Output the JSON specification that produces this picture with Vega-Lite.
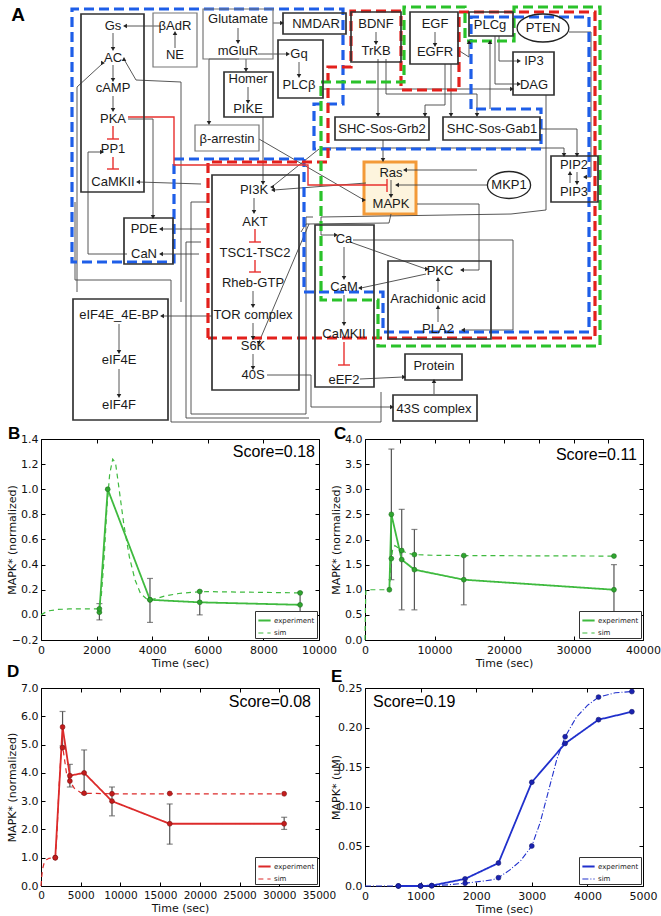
{
"$schema":"https://vega.github.io/schema/vega-lite/v6.json",
"padding":{"left":5,"top":0,"right":0,"bottom":0},
"bounds":"flush",
"spacing":12,
"config":{
 "font":"DejaVu Sans",
 "view":{"stroke":"#000","strokeWidth":1},
 "axis":{"grid":false,"domain":false,"labelOverlap":false,"labelFlush":false,"labelFont":"DejaVu Sans","labelFontSize":11,"labelColor":"#111","titleFont":"DejaVu Sans","titleFontSize":11,"titleFontWeight":"normal","titleColor":"#111","tickColor":"#000","tickSize":-4},
 "axisX":{"titlePadding":2,"labelPadding":8},
 "axisY":{"minExtent":21,"maxExtent":21,"titlePadding":3,"labelPadding":7},
 "legend":{"orient":"bottom-right","offset":2,"padding":2,"strokeColor":"#333","fillColor":"#fff","labelFont":"DejaVu Sans","labelFontSize":7,"labelColor":"#222","symbolType":"stroke","symbolSize":150,"symbolStrokeWidth":1.6,"rowPadding":1,"labelOffset":2,"title":null,"cornerRadius":0}
},
"datasets":{
 "zones":[
  {"z":"blue","o":0,"x":303,"y":157},{"z":"blue","o":1,"x":173,"y":157},{"z":"blue","o":2,"x":173,"y":260},{"z":"blue","o":3,"x":71,"y":260},{"z":"blue","o":4,"x":71,"y":7},{"z":"blue","o":5,"x":342,"y":7},{"z":"blue","o":6,"x":342,"y":102},{"z":"blue","o":7,"x":313,"y":102},{"z":"blue","o":8,"x":313,"y":147},{"z":"blue","o":9,"x":540,"y":147},{"z":"blue","o":10,"x":540,"y":107},{"z":"blue","o":11,"x":470,"y":107},{"z":"blue","o":12,"x":470,"y":15},{"z":"blue","o":13,"x":588,"y":15},{"z":"blue","o":14,"x":588,"y":330},{"z":"blue","o":15,"x":382,"y":330},{"z":"blue","o":16,"x":382,"y":290},{"z":"blue","o":17,"x":303,"y":290},{"z":"blue","o":18,"x":303,"y":157},
  {"z":"red","o":0,"x":207,"y":336},{"z":"red","o":1,"x":207,"y":160},{"z":"red","o":2,"x":327,"y":160},{"z":"red","o":3,"x":327,"y":65},{"z":"red","o":4,"x":350,"y":65},{"z":"red","o":5,"x":350,"y":9},{"z":"red","o":6,"x":400,"y":9},{"z":"red","o":7,"x":400,"y":88},{"z":"red","o":8,"x":458,"y":88},{"z":"red","o":9,"x":458,"y":10},{"z":"red","o":10,"x":594,"y":10},{"z":"red","o":11,"x":594,"y":336},{"z":"red","o":12,"x":207,"y":336},
  {"z":"green","o":0,"x":320,"y":80},{"z":"green","o":1,"x":403,"y":80},{"z":"green","o":2,"x":403,"y":5},{"z":"green","o":3,"x":464,"y":5},{"z":"green","o":4,"x":464,"y":39},{"z":"green","o":5,"x":513,"y":39},{"z":"green","o":6,"x":513,"y":5},{"z":"green","o":7,"x":599,"y":5},{"z":"green","o":8,"x":599,"y":344},{"z":"green","o":9,"x":377,"y":344},{"z":"green","o":10,"x":377,"y":298},{"z":"green","o":11,"x":320,"y":298},{"z":"green","o":12,"x":320,"y":80}
 ],
 "gl":[
  {"p":1,"o":0,"x":160,"y":24},{"p":1,"o":1,"x":125,"y":24},
  {"p":2,"o":0,"x":174,"y":46},{"p":2,"o":1,"x":174,"y":32},
  {"p":3,"o":0,"x":112,"y":31},{"p":3,"o":1,"x":112,"y":46},
  {"p":4,"o":0,"x":112,"y":63},{"p":4,"o":1,"x":112,"y":77},
  {"p":5,"o":0,"x":112,"y":94},{"p":5,"o":1,"x":112,"y":107},
  {"p":6,"o":0,"x":237,"y":26},{"p":6,"o":1,"x":237,"y":39},
  {"p":7,"o":0,"x":272,"y":21},{"p":7,"o":1,"x":280,"y":21},
  {"p":8,"o":0,"x":257,"y":52},{"p":8,"o":1,"x":286,"y":52},
  {"p":9,"o":0,"x":245,"y":57},{"p":9,"o":1,"x":245,"y":67},
  {"p":10,"o":0,"x":238,"y":57},{"p":10,"o":1,"x":208,"y":57},{"p":10,"o":2,"x":208,"y":120},
  {"p":11,"o":0,"x":298,"y":60},{"p":11,"o":1,"x":298,"y":73},
  {"p":12,"o":0,"x":247,"y":85},{"p":12,"o":1,"x":247,"y":99},
  {"p":13,"o":0,"x":262,"y":115},{"p":13,"o":1,"x":262,"y":180},
  {"p":14,"o":0,"x":258,"y":137},{"p":14,"o":1,"x":363,"y":198},
  {"p":15,"o":0,"x":375,"y":30},{"p":15,"o":1,"x":375,"y":40},
  {"p":16,"o":0,"x":434,"y":30},{"p":16,"o":1,"x":434,"y":42},
  {"p":17,"o":0,"x":377,"y":57},{"p":17,"o":1,"x":377,"y":112},
  {"p":18,"o":0,"x":385,"y":57},{"p":18,"o":1,"x":385,"y":92},{"p":18,"o":2,"x":476,"y":92},{"p":18,"o":3,"x":476,"y":112},
  {"p":19,"o":0,"x":450,"y":62},{"p":19,"o":1,"x":450,"y":112},
  {"p":20,"o":0,"x":444,"y":62},{"p":20,"o":1,"x":444,"y":103},{"p":20,"o":2,"x":424,"y":103},{"p":20,"o":3,"x":424,"y":112},
  {"p":21,"o":0,"x":382,"y":138},{"p":21,"o":1,"x":382,"y":157},
  {"p":22,"o":0,"x":457,"y":48},{"p":22,"o":1,"x":468,"y":55},{"p":22,"o":2,"x":468,"y":41},
  {"p":23,"o":0,"x":489,"y":107},{"p":23,"o":1,"x":489,"y":41},
  {"p":24,"o":0,"x":498,"y":34},{"p":24,"o":1,"x":498,"y":59},{"p":24,"o":2,"x":517,"y":59},
  {"p":25,"o":0,"x":494,"y":34},{"p":25,"o":1,"x":494,"y":82},{"p":25,"o":2,"x":517,"y":82},
  {"p":26,"o":0,"x":322,"y":87},{"p":26,"o":1,"x":510,"y":87},
  {"p":27,"o":0,"x":568,"y":30},{"p":27,"o":1,"x":590,"y":30},{"p":27,"o":2,"x":590,"y":175},{"p":27,"o":3,"x":585,"y":175},
  {"p":28,"o":0,"x":539,"y":127},{"p":28,"o":1,"x":576,"y":127},{"p":28,"o":2,"x":576,"y":152},
  {"p":29,"o":0,"x":569,"y":181},{"p":29,"o":1,"x":569,"y":172},
  {"p":30,"o":0,"x":576,"y":170},{"p":30,"o":1,"x":576,"y":180},
  {"p":31,"o":0,"x":320,"y":146},{"p":31,"o":1,"x":563,"y":146},{"p":31,"o":2,"x":563,"y":152},
  {"p":32,"o":0,"x":486,"y":183},{"p":32,"o":1,"x":397,"y":183},
  {"p":33,"o":0,"x":390,"y":178},{"p":33,"o":1,"x":390,"y":193},
  {"p":34,"o":0,"x":476,"y":168},{"p":34,"o":1,"x":405,"y":168},
  {"p":35,"o":0,"x":416,"y":202},{"p":35,"o":1,"x":478,"y":202},{"p":35,"o":2,"x":478,"y":268},{"p":35,"o":3,"x":462,"y":268},
  {"p":36,"o":0,"x":253,"y":196},{"p":36,"o":1,"x":253,"y":209},
  {"p":37,"o":0,"x":252,"y":289},{"p":37,"o":1,"x":252,"y":303},
  {"p":38,"o":0,"x":252,"y":321},{"p":38,"o":1,"x":252,"y":335},
  {"p":39,"o":0,"x":252,"y":352},{"p":39,"o":1,"x":252,"y":365},
  {"p":40,"o":0,"x":211,"y":314},{"p":40,"o":1,"x":162,"y":314},
  {"p":41,"o":0,"x":118,"y":322},{"p":41,"o":1,"x":118,"y":349},
  {"p":42,"o":0,"x":118,"y":367},{"p":42,"o":1,"x":118,"y":393},
  {"p":43,"o":0,"x":343,"y":245},{"p":43,"o":1,"x":343,"y":275},
  {"p":44,"o":0,"x":343,"y":293},{"p":44,"o":1,"x":343,"y":321},
  {"p":45,"o":0,"x":349,"y":240},{"p":45,"o":1,"x":425,"y":267},
  {"p":46,"o":0,"x":425,"y":272},{"p":46,"o":1,"x":360,"y":286},
  {"p":47,"o":0,"x":437,"y":320},{"p":47,"o":1,"x":437,"y":306},
  {"p":48,"o":0,"x":437,"y":290},{"p":48,"o":1,"x":437,"y":278},
  {"p":49,"o":0,"x":266,"y":373},{"p":49,"o":1,"x":310,"y":373},{"p":49,"o":2,"x":310,"y":405},{"p":49,"o":3,"x":390,"y":405},
  {"p":50,"o":0,"x":359,"y":377},{"p":50,"o":1,"x":402,"y":375},
  {"p":51,"o":0,"x":433,"y":392},{"p":51,"o":1,"x":433,"y":380},
  {"p":52,"o":0,"x":127,"y":117},{"p":52,"o":1,"x":152,"y":117},{"p":52,"o":2,"x":152,"y":214},
  {"p":53,"o":0,"x":200,"y":182},{"p":53,"o":1,"x":138,"y":180},
  {"p":54,"o":0,"x":126,"y":252},{"p":54,"o":1,"x":87,"y":252},{"p":54,"o":2,"x":87,"y":150},{"p":54,"o":3,"x":100,"y":150},
  {"p":55,"o":0,"x":76,"y":290},{"p":55,"o":1,"x":76,"y":85},{"p":55,"o":2,"x":101,"y":62},
  {"p":56,"o":0,"x":180,"y":300},{"p":56,"o":1,"x":180,"y":80},{"p":56,"o":2,"x":135,"y":78},{"p":56,"o":3,"x":124,"y":59},
  {"p":57,"o":0,"x":205,"y":227},{"p":57,"o":1,"x":161,"y":227},
  {"p":58,"o":0,"x":198,"y":252},{"p":58,"o":1,"x":161,"y":252},
  {"p":59,"o":0,"x":318,"y":147},{"p":59,"o":1,"x":272,"y":184},
  {"p":60,"o":0,"x":365,"y":181},{"p":60,"o":1,"x":273,"y":188},
  {"p":61,"o":0,"x":352,"y":238},{"p":61,"o":1,"x":512,"y":238},{"p":61,"o":2,"x":512,"y":328},{"p":61,"o":3,"x":463,"y":328},
  {"p":63,"o":0,"x":545,"y":93},{"p":63,"o":1,"x":545,"y":208},{"p":63,"o":2,"x":510,"y":212},{"p":63,"o":3,"x":320,"y":215},{"p":63,"o":4,"x":320,"y":233},{"p":63,"o":5,"x":334,"y":233},
  {"p":64,"o":0,"x":74,"y":200},{"p":64,"o":1,"x":74,"y":278},{"p":64,"o":2,"x":170,"y":278},{"p":64,"o":3,"x":170,"y":420},{"p":64,"o":4,"x":380,"y":420},{"p":64,"o":5,"x":380,"y":390},
  {"p":65,"o":0,"x":207,"y":200},{"p":65,"o":1,"x":190,"y":200},{"p":65,"o":2,"x":190,"y":412},{"p":65,"o":3,"x":305,"y":412},{"p":65,"o":4,"x":305,"y":215},{"p":65,"o":5,"x":312,"y":215},
  {"p":66,"o":0,"x":200,"y":240},{"p":66,"o":1,"x":185,"y":240},{"p":66,"o":2,"x":185,"y":416},{"p":66,"o":3,"x":308,"y":416},
  {"p":70,"o":0,"x":390,"y":212},{"p":70,"o":1,"x":388,"y":221},{"p":70,"o":2,"x":305,"y":222},{"p":70,"o":3,"x":300,"y":230},
  {"p":71,"o":0,"x":308,"y":222},{"p":71,"o":1,"x":258,"y":340}
 ],
 "heads":[
  {"x":124,"y":24,"d":"L"},{"x":174,"y":31,"d":"U"},{"x":112,"y":47,"d":"D"},{"x":112,"y":78,"d":"D"},{"x":112,"y":108,"d":"D"},{"x":237,"y":40,"d":"D"},{"x":281,"y":21,"d":"R"},{"x":287,"y":52,"d":"R"},{"x":245,"y":68,"d":"D"},{"x":208,"y":121,"d":"D"},{"x":298,"y":74,"d":"D"},{"x":247,"y":100,"d":"D"},{"x":262,"y":181,"d":"D"},{"x":363,"y":198,"d":"R"},{"x":375,"y":41,"d":"D"},{"x":434,"y":43,"d":"D"},{"x":377,"y":113,"d":"D"},{"x":476,"y":113,"d":"D"},{"x":450,"y":113,"d":"D"},{"x":424,"y":113,"d":"D"},{"x":382,"y":158,"d":"D"},{"x":468,"y":40,"d":"U"},{"x":489,"y":40,"d":"U"},{"x":518,"y":59,"d":"R"},{"x":518,"y":82,"d":"R"},{"x":511,"y":87,"d":"R"},{"x":584,"y":175,"d":"L"},{"x":576,"y":153,"d":"D"},{"x":569,"y":171,"d":"U"},{"x":576,"y":181,"d":"D"},{"x":563,"y":153,"d":"D"},{"x":396,"y":183,"d":"L"},{"x":390,"y":194,"d":"D"},{"x":404,"y":168,"d":"L"},{"x":461,"y":268,"d":"L"},{"x":253,"y":210,"d":"D"},{"x":252,"y":304,"d":"D"},{"x":252,"y":336,"d":"D"},{"x":252,"y":366,"d":"D"},{"x":161,"y":314,"d":"L"},{"x":118,"y":350,"d":"D"},{"x":118,"y":394,"d":"D"},{"x":343,"y":276,"d":"D"},{"x":343,"y":322,"d":"D"},{"x":426,"y":267,"d":"R"},{"x":359,"y":286,"d":"L"},{"x":437,"y":305,"d":"U"},{"x":437,"y":277,"d":"U"},{"x":391,"y":405,"d":"R"},{"x":403,"y":375,"d":"R"},{"x":433,"y":379,"d":"U"},{"x":152,"y":215,"d":"D"},{"x":137,"y":180,"d":"L"},{"x":101,"y":150,"d":"R"},{"x":102,"y":61,"d":"R"},{"x":123,"y":57,"d":"U"},{"x":160,"y":227,"d":"L"},{"x":160,"y":252,"d":"L"},{"x":271,"y":185,"d":"L"},{"x":272,"y":188,"d":"L"},{"x":462,"y":328,"d":"L"},{"x":335,"y":233,"d":"R"},{"x":258,"y":341,"d":"D"}
 ],
 "red":[
  {"p":1,"o":0,"x":112,"y":124},{"p":1,"o":1,"x":112,"y":137},{"p":2,"o":0,"x":106,"y":137},{"p":2,"o":1,"x":118,"y":137},
  {"p":3,"o":0,"x":112,"y":155},{"p":3,"o":1,"x":112,"y":167},{"p":4,"o":0,"x":106,"y":167},{"p":4,"o":1,"x":118,"y":167},
  {"p":5,"o":0,"x":254,"y":227},{"p":5,"o":1,"x":254,"y":240},{"p":6,"o":0,"x":248,"y":240},{"p":6,"o":1,"x":260,"y":240},
  {"p":7,"o":0,"x":254,"y":258},{"p":7,"o":1,"x":254,"y":270},{"p":8,"o":0,"x":248,"y":270},{"p":8,"o":1,"x":260,"y":270},
  {"p":9,"o":0,"x":343,"y":340},{"p":9,"o":1,"x":343,"y":363},{"p":10,"o":0,"x":337,"y":363},{"p":10,"o":1,"x":349,"y":363},
  {"p":11,"o":0,"x":127,"y":115},{"p":11,"o":1,"x":173,"y":115},{"p":11,"o":2,"x":173,"y":163},{"p":11,"o":3,"x":307,"y":163},{"p":11,"o":4,"x":307,"y":183},{"p":11,"o":5,"x":386,"y":183},
  {"p":12,"o":0,"x":386,"y":177},{"p":12,"o":1,"x":386,"y":190}
 ],
 "boxes":[
  {"x1":80,"y1":12,"x2":143,"y2":190,"k":"dark"},
  {"x1":152,"y1":11,"x2":196,"y2":65,"k":"gray"},
  {"x1":202,"y1":7,"x2":272,"y2":57,"k":"gray"},
  {"x1":282,"y1":11,"x2":345,"y2":32,"k":"dark"},
  {"x1":277,"y1":38,"x2":322,"y2":96,"k":"dark"},
  {"x1":223,"y1":70,"x2":272,"y2":115,"k":"dark"},
  {"x1":194,"y1":123,"x2":258,"y2":149,"k":"gray"},
  {"x1":211,"y1":173,"x2":298,"y2":388,"k":"dark"},
  {"x1":350,"y1":10,"x2":400,"y2":60,"k":"dark"},
  {"x1":409,"y1":10,"x2":457,"y2":62,"k":"dark"},
  {"x1":468,"y1":10,"x2":512,"y2":34,"k":"dark"},
  {"x1":512,"y1":50,"x2":553,"y2":93,"k":"dark"},
  {"x1":334,"y1":115,"x2":428,"y2":138,"k":"dark"},
  {"x1":442,"y1":115,"x2":539,"y2":138,"k":"dark"},
  {"x1":550,"y1":154,"x2":597,"y2":200,"k":"dark"},
  {"x1":123,"y1":216,"x2":172,"y2":262,"k":"dark"},
  {"x1":72,"y1":297,"x2":167,"y2":418,"k":"dark"},
  {"x1":314,"y1":223,"x2":373,"y2":385,"k":"dark"},
  {"x1":387,"y1":259,"x2":490,"y2":337,"k":"dark"},
  {"x1":404,"y1":352,"x2":461,"y2":378,"k":"dark"},
  {"x1":392,"y1":393,"x2":476,"y2":419,"k":"dark"},
  {"x1":363,"y1":160,"x2":415,"y2":212,"k":"orange"}
 ],
 "labels":[
  {"t":"Gs","x":112,"y":24},{"t":"βAdR","x":174,"y":24},{"t":"NE","x":174,"y":53},{"t":"Glutamate","x":237,"y":17},{"t":"mGluR","x":237,"y":49},{"t":"NMDAR","x":315,"y":22},{"t":"Gq","x":298,"y":52},{"t":"PLCβ","x":298,"y":83},
  {"t":"AC","x":112,"y":56},{"t":"cAMP","x":112,"y":86},{"t":"PKA","x":112,"y":117},{"t":"PP1","x":112,"y":147},{"t":"CaMKII","x":112,"y":180},
  {"t":"Homer","x":247,"y":77},{"t":"PIKE","x":247,"y":107},{"t":"β-arrestin","x":226,"y":137},
  {"t":"BDNF","x":375,"y":22},{"t":"TrKB","x":375,"y":49},{"t":"EGF","x":434,"y":22},{"t":"EGFR","x":434,"y":50},{"t":"PLCg","x":489,"y":23},{"t":"PTEN","x":542,"y":26},
  {"t":"IP3","x":533,"y":59},{"t":"DAG","x":533,"y":83},{"t":"SHC-Sos-Grb2","x":381,"y":127},{"t":"SHC-Sos-Gab1","x":491,"y":127},
  {"t":"PIP2","x":573,"y":163},{"t":"PIP3","x":573,"y":190},{"t":"Ras","x":390,"y":171},{"t":"MAPK","x":390,"y":202},{"t":"MKP1","x":508,"y":183},
  {"t":"PI3K","x":253,"y":188},{"t":"AKT","x":254,"y":220},{"t":"TSC1-TSC2","x":254,"y":251},{"t":"Rheb-GTP","x":252,"y":281},{"t":"TOR complex","x":252,"y":313},{"t":"S6K","x":252,"y":344},{"t":"40S","x":252,"y":373},
  {"t":"PDE","x":143,"y":227},{"t":"CaN","x":143,"y":252},{"t":"eIF4E_4E-BP","x":118,"y":313},{"t":"eIF4E","x":118,"y":358},{"t":"eIF4F","x":118,"y":403},
  {"t":"Ca","x":343,"y":237},{"t":"CaM","x":343,"y":285},{"t":"CaMKII","x":343,"y":332},{"t":"eEF2","x":343,"y":378},
  {"t":"PKC","x":439,"y":269},{"t":"Arachidonic acid","x":437,"y":297},{"t":"PLA2","x":437,"y":327},{"t":"Protein","x":433,"y":364},{"t":"43S complex","x":433,"y":407}
 ],
 "b":[
  {"s":"experiment","t":2100,"v":0.021,"lo":-0.04,"hi":0.09},{"s":"experiment","t":2400,"v":1.0},{"s":"experiment","t":3920,"v":0.12,"lo":-0.06,"hi":0.29},{"s":"experiment","t":5710,"v":0.10,"lo":0.0,"hi":0.19},{"s":"experiment","t":9320,"v":0.08,"lo":0.0,"hi":0.18},
  {"s":"simpt","t":2100,"v":0.048},{"s":"simpt","t":3920,"v":0.12},{"s":"simpt","t":5710,"v":0.186},{"s":"simpt","t":9320,"v":0.175},
  {"s":"sim","t":0,"v":0.0},{"s":"sim","t":150,"v":0.02},{"s":"sim","t":300,"v":0.033},{"s":"sim","t":600,"v":0.043},{"s":"sim","t":1000,"v":0.047},{"s":"sim","t":2080,"v":0.048},{"s":"sim","t":2170,"v":0.15},{"s":"sim","t":2270,"v":0.45},{"s":"sim","t":2370,"v":0.85},{"s":"sim","t":2470,"v":1.12},{"s":"sim","t":2580,"v":1.24},{"s":"sim","t":2680,"v":1.21},{"s":"sim","t":2780,"v":1.05},{"s":"sim","t":2980,"v":0.72},{"s":"sim","t":3180,"v":0.46},{"s":"sim","t":3380,"v":0.28},{"s":"sim","t":3580,"v":0.17},{"s":"sim","t":3780,"v":0.13},{"s":"sim","t":3920,"v":0.12},{"s":"sim","t":4150,"v":0.13},{"s":"sim","t":4450,"v":0.15},{"s":"sim","t":4950,"v":0.17},{"s":"sim","t":5450,"v":0.18},{"s":"sim","t":5950,"v":0.185},{"s":"sim","t":9320,"v":0.175}
 ],
 "c":[
  {"s":"experiment","t":3505,"v":1.0},{"s":"experiment","t":3793,"v":2.5,"lo":1.2,"hi":3.8},{"s":"experiment","t":5282,"v":1.6,"lo":0.6,"hi":2.6},{"s":"experiment","t":7107,"v":1.4,"lo":0.6,"hi":2.2},{"s":"experiment","t":14214,"v":1.2,"lo":0.7,"hi":1.67},{"s":"experiment","t":35822,"v":1.0,"lo":0.5,"hi":1.5},
  {"s":"simpt","t":3793,"v":1.62},{"s":"simpt","t":5282,"v":1.78},{"s":"simpt","t":7107,"v":1.70},{"s":"simpt","t":14214,"v":1.68},{"s":"simpt","t":35822,"v":1.67},
  {"s":"sim","t":0,"v":0.0},{"s":"sim","t":60,"v":0.6},{"s":"sim","t":120,"v":0.97},{"s":"sim","t":300,"v":1.0},{"s":"sim","t":3505,"v":1.0},{"s":"sim","t":3650,"v":1.3},{"s":"sim","t":3793,"v":1.62},{"s":"sim","t":4000,"v":1.82},{"s":"sim","t":4300,"v":1.88},{"s":"sim","t":4700,"v":1.84},{"s":"sim","t":5282,"v":1.78},{"s":"sim","t":6000,"v":1.73},{"s":"sim","t":7107,"v":1.70},{"s":"sim","t":10000,"v":1.685},{"s":"sim","t":14214,"v":1.68},{"s":"sim","t":35822,"v":1.67}
 ],
 "d":[
  {"s":"experiment","t":1796,"v":1.0},{"s":"experiment","t":2715,"v":5.62,"lo":4.95,"hi":6.17},{"s":"experiment","t":3634,"v":3.9,"lo":3.5,"hi":4.3},{"s":"experiment","t":5430,"v":4.0,"lo":3.25,"hi":4.81},{"s":"experiment","t":8938,"v":3.0,"lo":2.48,"hi":3.5},{"s":"experiment","t":16205,"v":2.2,"lo":1.48,"hi":2.9},{"s":"experiment","t":30614,"v":2.2,"lo":2.0,"hi":2.43},
  {"s":"simpt","t":1796,"v":1.0},{"s":"simpt","t":2715,"v":4.89},{"s":"simpt","t":3634,"v":3.71},{"s":"simpt","t":5430,"v":3.28},{"s":"simpt","t":8938,"v":3.26},{"s":"simpt","t":16205,"v":3.27},{"s":"simpt","t":30614,"v":3.26},
  {"s":"sim","t":0,"v":0.0},{"s":"sim","t":80,"v":0.3},{"s":"sim","t":200,"v":0.6},{"s":"sim","t":400,"v":0.82},{"s":"sim","t":700,"v":0.93},{"s":"sim","t":1000,"v":0.98},{"s":"sim","t":1796,"v":1.0},{"s":"sim","t":2000,"v":1.8},{"s":"sim","t":2250,"v":3.4},{"s":"sim","t":2500,"v":4.6},{"s":"sim","t":2715,"v":4.95},{"s":"sim","t":2900,"v":4.6},{"s":"sim","t":3200,"v":4.0},{"s":"sim","t":3634,"v":3.71},{"s":"sim","t":4200,"v":3.45},{"s":"sim","t":5000,"v":3.3},{"s":"sim","t":5430,"v":3.28},{"s":"sim","t":8938,"v":3.26},{"s":"sim","t":30614,"v":3.26}
 ],
 "e":[
  {"s":"experiment","t":600,"v":0.0},{"s":"experiment","t":1000,"v":0.0},{"s":"experiment","t":1200,"v":0.0005},{"s":"experiment","t":1800,"v":0.009},{"s":"experiment","t":2400,"v":0.029},{"s":"experiment","t":3000,"v":0.131},{"s":"experiment","t":3600,"v":0.18},{"s":"experiment","t":4200,"v":0.21},{"s":"experiment","t":4800,"v":0.22},
  {"s":"simpt","t":600,"v":0.0},{"s":"simpt","t":1000,"v":0.0},{"s":"simpt","t":1200,"v":0.0003},{"s":"simpt","t":1800,"v":0.0035},{"s":"simpt","t":2400,"v":0.0105},{"s":"simpt","t":3000,"v":0.0505},{"s":"simpt","t":3600,"v":0.1885},{"s":"simpt","t":4200,"v":0.2385},{"s":"simpt","t":4800,"v":0.2455},
  {"s":"sim","t":0,"v":0.0},{"s":"sim","t":600,"v":0.0},{"s":"sim","t":1000,"v":0.0002},{"s":"sim","t":1200,"v":0.0005},{"s":"sim","t":1500,"v":0.0015},{"s":"sim","t":1800,"v":0.0035},{"s":"sim","t":2100,"v":0.006},{"s":"sim","t":2300,"v":0.008},{"s":"sim","t":2400,"v":0.0105},{"s":"sim","t":2600,"v":0.02},{"s":"sim","t":2800,"v":0.032},{"s":"sim","t":3000,"v":0.0505},{"s":"sim","t":3150,"v":0.08},{"s":"sim","t":3300,"v":0.12},{"s":"sim","t":3450,"v":0.16},{"s":"sim","t":3600,"v":0.1885},{"s":"sim","t":3800,"v":0.213},{"s":"sim","t":4000,"v":0.228},{"s":"sim","t":4200,"v":0.2385},{"s":"sim","t":4500,"v":0.244},{"s":"sim","t":4800,"v":0.2455}
 ],
 "ann":[
  {"panel":"B","letter":"B","score":"Score=0.18"},{"panel":"C","letter":"C","score":"Score=0.11"},{"panel":"D","letter":"D","score":"Score=0.08"},{"panel":"E","letter":"E","score":"Score=0.19"}
 ]
},
"vconcat":[
 {
  "width":621,"height":425,
  "view":{"stroke":null},
  "layer":[
   {"data":{"name":"boxes"},"transform":[{"filter":"datum.k == 'orange'"}],
    "mark":{"type":"rect","fill":"#fdf4dd","stroke":"#f39a38","strokeWidth":3},
    "encoding":{"x":{"field":"x1","type":"quantitative","scale":{"domain":[40,661],"nice":false,"zero":false},"axis":null},"x2":{"field":"x2"},"y":{"field":"y1","type":"quantitative","scale":{"domain":[0,425],"nice":false,"zero":false,"reverse":true},"axis":null},"y2":{"field":"y2"}}},
   {"data":{"name":"gl"},
    "mark":{"type":"line","color":"#444","strokeWidth":0.9},
    "encoding":{"x":{"field":"x","type":"quantitative","axis":null},"y":{"field":"y","type":"quantitative","axis":null},"detail":{"field":"p","type":"nominal"},"order":{"field":"o","type":"quantitative"}}},
   {"data":{"name":"zones"},
    "mark":{"type":"line","strokeWidth":3.2,"strokeDash":[10,5]},
    "encoding":{"x":{"field":"x","type":"quantitative","axis":null},"y":{"field":"y","type":"quantitative","axis":null},"color":{"field":"z","type":"nominal","scale":{"domain":["blue","red","green"],"range":["#1e5ee8","#e3201c","#2ac22a"]},"legend":null},"order":{"field":"o","type":"quantitative"}}},
   {"data":{"name":"red"},
    "mark":{"type":"line","color":"#e8302e","strokeWidth":1.4},
    "encoding":{"x":{"field":"x","type":"quantitative","axis":null},"y":{"field":"y","type":"quantitative","axis":null},"detail":{"field":"p","type":"nominal"},"order":{"field":"o","type":"quantitative"}}},
   {"data":{"name":"boxes"},"transform":[{"filter":"datum.k == 'dark'"}],
    "mark":{"type":"rect","filled":false,"stroke":"#333","strokeWidth":1.7},
    "encoding":{"x":{"field":"x1","type":"quantitative","axis":null},"x2":{"field":"x2"},"y":{"field":"y1","type":"quantitative","axis":null},"y2":{"field":"y2"}}},
   {"data":{"name":"boxes"},"transform":[{"filter":"datum.k == 'gray'"}],
    "mark":{"type":"rect","filled":false,"stroke":"#777","strokeWidth":1.2},
    "encoding":{"x":{"field":"x1","type":"quantitative","axis":null},"x2":{"field":"x2"},"y":{"field":"y1","type":"quantitative","axis":null},"y2":{"field":"y2"}}},
   {"data":{"values":[{"n":"PTEN","x":542,"y":26}]},
    "mark":{"type":"point","shape":"M-1.85,0A1.85,1,0,1,0,1.85,0A1.85,1,0,1,0,-1.85,0Z","size":784,"stroke":"#222","strokeWidth":1.3,"filled":false,"opacity":1},
    "encoding":{"x":{"field":"x","type":"quantitative","axis":null},"y":{"field":"y","type":"quantitative","axis":null}}},
   {"data":{"values":[{"n":"MKP1","x":508,"y":183}]},
    "mark":{"type":"point","shape":"M-1.6,0A1.6,1,0,1,0,1.6,0A1.6,1,0,1,0,-1.6,0Z","size":729,"stroke":"#222","strokeWidth":1.3,"filled":false,"opacity":1},
    "encoding":{"x":{"field":"x","type":"quantitative","axis":null},"y":{"field":"y","type":"quantitative","axis":null}}},
   {"data":{"name":"heads"},
    "mark":{"type":"point","filled":true,"size":20,"color":"#222","opacity":1},
    "encoding":{"x":{"field":"x","type":"quantitative","axis":null},"y":{"field":"y","type":"quantitative","axis":null},"shape":{"field":"d","type":"nominal","scale":{"domain":["U","D","L","R"],"range":["triangle-up","triangle-down","triangle-left","triangle-right"]},"legend":null}}},
   {"data":{"name":"labels"},
    "mark":{"type":"text","font":"Liberation Sans","fontSize":13,"color":"#1a1a1a","align":"center","baseline":"middle"},
    "encoding":{"x":{"field":"x","type":"quantitative","axis":null},"y":{"field":"y","type":"quantitative","axis":null},"text":{"field":"t"}}},
   {"data":{"values":[{"t":"A","x":17,"y":13}]},
    "mark":{"type":"text","font":"Liberation Sans","fontSize":19,"fontWeight":"bold","color":"#000","align":"center","baseline":"middle"},
    "encoding":{"x":{"field":"x","type":"quantitative","axis":null},"y":{"field":"y","type":"quantitative","axis":null},"text":{"field":"t"}}}
  ]
 },
 {
  "concat":[
     {
      "width":278,"height":201,
      "resolve":{"axis":{"x":"independent","y":"independent"}},
      "layer":[
       {"data":{"name":"b"},"transform":[{"filter":"datum.lo != null"}],"mark":{"type":"rule","color":"#555","strokeWidth":1.2},
        "encoding":{"x":{"field":"t","type":"quantitative","scale":{"domain":[0,10000],"nice":false,"zero":false},"axis":{"values":[0,2000,4000,6000,8000,10000],"format":"d","title":"Time (sec)","labelOverlap":false,"labelFlush":false}},"y":{"field":"lo","type":"quantitative","scale":{"domain":[-0.2,1.4],"nice":false,"zero":false},"axis":{"values":[-0.2,0,0.2,0.4,0.6,0.8,1.0,1.2,1.4],"format":".1f","title":"MAPK* (normalized)","labelOverlap":false,"labelFlush":false}},"y2":{"field":"hi"}}},
       {"data":{"name":"b"},"transform":[{"filter":"datum.lo != null"}],"mark":{"type":"tick","orient":"horizontal","size":6,"thickness":1.2,"color":"#555"},
        "encoding":{"x":{"field":"t","type":"quantitative","axis":{"orient":"top","values":[0,2000,4000,6000,8000,10000],"labels":false,"title":null}},"y":{"field":"lo","type":"quantitative","axis":{"orient":"right","values":[-0.2,0,0.2,0.4,0.6,0.8,1.0,1.2,1.4],"labels":false,"title":null}}}},
       {"data":{"name":"b"},"transform":[{"filter":"datum.lo != null"}],"mark":{"type":"tick","orient":"horizontal","size":6,"thickness":1.2,"color":"#555"},
        "encoding":{"x":{"field":"t","type":"quantitative","axis":null},"y":{"field":"hi","type":"quantitative","axis":null}}},
       {"data":{"name":"b"},"transform":[{"filter":"datum.s != 'simpt'"}],"mark":{"type":"line","color":"#3fba3f"},
        "encoding":{"x":{"field":"t","type":"quantitative","axis":null},"y":{"field":"v","type":"quantitative","axis":null},"strokeDash":{"field":"s","type":"nominal","scale":{"domain":["experiment","sim"],"range":[[1,0],[5,4]]},"legend":{"symbolStrokeColor":"#3fba3f"}},"strokeWidth":{"field":"s","type":"nominal","scale":{"domain":["experiment","sim"],"range":[1.8,1.2]},"legend":null}}},
       {"data":{"name":"b"},"transform":[{"filter":"datum.s != 'sim'"}],"mark":{"type":"circle","size":24,"color":"#2fa52f","stroke":"#1d6e1d","strokeWidth":0.6,"opacity":1},
        "encoding":{"x":{"field":"t","type":"quantitative","axis":null},"y":{"field":"v","type":"quantitative","axis":null}}},
       {"data":{"name":"ann"},"transform":[{"filter":"datum.panel == 'B'"}],"mark":{"type":"text","align":"right","baseline":"top","dx":-4,"dy":5,"fontSize":16,"font":"Liberation Sans","color":"#000"},
        "encoding":{"x":{"datum":10000,"type":"quantitative","axis":null},"y":{"datum":1.4,"type":"quantitative","axis":null},"text":{"field":"score","type":"nominal"}}},
       {"data":{"name":"ann"},"transform":[{"filter":"datum.panel == 'B'"}],"mark":{"type":"text","align":"left","baseline":"alphabetic","dx":-33,"dy":0,"fontSize":17,"fontWeight":"bold","font":"Liberation Sans","color":"#000"},
        "encoding":{"x":{"datum":0,"type":"quantitative","axis":null},"y":{"datum":1.4,"type":"quantitative","axis":null},"text":{"field":"letter","type":"nominal"}}}
      ]
     },
     {
      "width":278,"height":201,
      "resolve":{"axis":{"x":"independent","y":"independent"}},
      "layer":[
       {"data":{"name":"c"},"transform":[{"filter":"datum.lo != null"}],"mark":{"type":"rule","color":"#555","strokeWidth":1.2},
        "encoding":{"x":{"field":"t","type":"quantitative","scale":{"domain":[0,40000],"nice":false,"zero":false},"axis":{"values":[0,10000,20000,30000,40000],"format":"d","title":"Time (sec)","labelOverlap":false,"labelFlush":false}},"y":{"field":"lo","type":"quantitative","scale":{"domain":[0,4],"nice":false,"zero":false},"axis":{"values":[0,0.5,1,1.5,2,2.5,3,3.5,4],"format":".1f","title":"MAPK* (normalized)","labelOverlap":false,"labelFlush":false}},"y2":{"field":"hi"}}},
       {"data":{"name":"c"},"transform":[{"filter":"datum.lo != null"}],"mark":{"type":"tick","orient":"horizontal","size":6,"thickness":1.2,"color":"#555"},
        "encoding":{"x":{"field":"t","type":"quantitative","axis":{"orient":"top","values":[0,5000,10000,15000,20000,25000,30000,35000,40000],"labels":false,"title":null}},"y":{"field":"lo","type":"quantitative","axis":{"orient":"right","values":[0,0.5,1,1.5,2,2.5,3,3.5,4],"labels":false,"title":null}}}},
       {"data":{"name":"c"},"transform":[{"filter":"datum.lo != null"}],"mark":{"type":"tick","orient":"horizontal","size":6,"thickness":1.2,"color":"#555"},
        "encoding":{"x":{"field":"t","type":"quantitative","axis":null},"y":{"field":"hi","type":"quantitative","axis":null}}},
       {"data":{"name":"c"},"transform":[{"filter":"datum.s != 'simpt'"}],"mark":{"type":"line","color":"#3fba3f"},
        "encoding":{"x":{"field":"t","type":"quantitative","axis":null},"y":{"field":"v","type":"quantitative","axis":null},"strokeDash":{"field":"s","type":"nominal","scale":{"domain":["experiment","sim"],"range":[[1,0],[5,4]]},"legend":{"symbolStrokeColor":"#3fba3f"}},"strokeWidth":{"field":"s","type":"nominal","scale":{"domain":["experiment","sim"],"range":[1.8,1.2]},"legend":null}}},
       {"data":{"name":"c"},"transform":[{"filter":"datum.s != 'sim'"}],"mark":{"type":"circle","size":24,"color":"#2fa52f","stroke":"#1d6e1d","strokeWidth":0.6,"opacity":1},
        "encoding":{"x":{"field":"t","type":"quantitative","axis":null},"y":{"field":"v","type":"quantitative","axis":null}}},
       {"data":{"name":"ann"},"transform":[{"filter":"datum.panel == 'C'"}],"mark":{"type":"text","align":"right","baseline":"top","dx":-6,"dy":8,"fontSize":16,"font":"Liberation Sans","color":"#000"},
        "encoding":{"x":{"datum":40000,"type":"quantitative","axis":null},"y":{"datum":4,"type":"quantitative","axis":null},"text":{"field":"score","type":"nominal"}}},
       {"data":{"name":"ann"},"transform":[{"filter":"datum.panel == 'C'"}],"mark":{"type":"text","align":"left","baseline":"alphabetic","dx":-31,"dy":0,"fontSize":17,"fontWeight":"bold","font":"Liberation Sans","color":"#000"},
        "encoding":{"x":{"datum":0,"type":"quantitative","axis":null},"y":{"datum":4,"type":"quantitative","axis":null},"text":{"field":"letter","type":"nominal"}}}
      ]
     },
     {
      "width":278,"height":198,
      "resolve":{"axis":{"x":"independent","y":"independent"}},
      "layer":[
       {"data":{"name":"d"},"transform":[{"filter":"datum.lo != null"}],"mark":{"type":"rule","color":"#555","strokeWidth":1.2},
        "encoding":{"x":{"field":"t","type":"quantitative","scale":{"domain":[0,35000],"nice":false,"zero":false},"axis":{"values":[0,5000,10000,15000,20000,25000,30000,35000],"format":"d","title":"Time (sec)","labelOverlap":false,"labelFlush":false,"labelFontSize":10.5}},"y":{"field":"lo","type":"quantitative","scale":{"domain":[0,7],"nice":false,"zero":false},"axis":{"values":[0,1,2,3,4,5,6,7],"format":".1f","title":"MAPK* (normalized)","labelOverlap":false,"labelFlush":false}},"y2":{"field":"hi"}}},
       {"data":{"name":"d"},"transform":[{"filter":"datum.lo != null"}],"mark":{"type":"tick","orient":"horizontal","size":6,"thickness":1.2,"color":"#555"},
        "encoding":{"x":{"field":"t","type":"quantitative","axis":{"orient":"top","values":[0,5000,10000,15000,20000,25000,30000,35000],"labels":false,"title":null}},"y":{"field":"lo","type":"quantitative","axis":{"orient":"right","values":[0,1,2,3,4,5,6,7],"labels":false,"title":null}}}},
       {"data":{"name":"d"},"transform":[{"filter":"datum.lo != null"}],"mark":{"type":"tick","orient":"horizontal","size":6,"thickness":1.2,"color":"#555"},
        "encoding":{"x":{"field":"t","type":"quantitative","axis":null},"y":{"field":"hi","type":"quantitative","axis":null}}},
       {"data":{"name":"d"},"transform":[{"filter":"datum.s != 'simpt'"}],"mark":{"type":"line","color":"#dc2a2a"},
        "encoding":{"x":{"field":"t","type":"quantitative","axis":null},"y":{"field":"v","type":"quantitative","axis":null},"strokeDash":{"field":"s","type":"nominal","scale":{"domain":["experiment","sim"],"range":[[1,0],[5,4]]},"legend":{"symbolStrokeColor":"#dc2a2a"}},"strokeWidth":{"field":"s","type":"nominal","scale":{"domain":["experiment","sim"],"range":[1.8,1.2]},"legend":null}}},
       {"data":{"name":"d"},"transform":[{"filter":"datum.s != 'sim'"}],"mark":{"type":"circle","size":24,"color":"#c41c1c","stroke":"#7a1010","strokeWidth":0.6,"opacity":1},
        "encoding":{"x":{"field":"t","type":"quantitative","axis":null},"y":{"field":"v","type":"quantitative","axis":null}}},
       {"data":{"name":"ann"},"transform":[{"filter":"datum.panel == 'D'"}],"mark":{"type":"text","align":"right","baseline":"top","dx":-8,"dy":6,"fontSize":16,"font":"Liberation Sans","color":"#000"},
        "encoding":{"x":{"datum":35000,"type":"quantitative","axis":null},"y":{"datum":7,"type":"quantitative","axis":null},"text":{"field":"score","type":"nominal"}}},
       {"data":{"name":"ann"},"transform":[{"filter":"datum.panel == 'D'"}],"mark":{"type":"text","align":"left","baseline":"alphabetic","dx":-34,"dy":-11,"fontSize":17,"fontWeight":"bold","font":"Liberation Sans","color":"#000"},
        "encoding":{"x":{"datum":0,"type":"quantitative","axis":null},"y":{"datum":7,"type":"quantitative","axis":null},"text":{"field":"letter","type":"nominal"}}}
      ]
     },
     {
      "width":278,"height":198,
      "resolve":{"axis":{"x":"independent","y":"independent"}},
      "layer":[
       {"data":{"name":"e"},"transform":[{"filter":"datum.s != 'simpt'"}],"mark":{"type":"line","color":"#2030cc"},
        "encoding":{"x":{"field":"t","type":"quantitative","scale":{"domain":[0,5000],"nice":false,"zero":false},"axis":{"values":[0,1000,2000,3000,4000,5000],"format":"d","title":"Time (sec)","labelOverlap":false,"labelFlush":false}},"y":{"field":"v","type":"quantitative","scale":{"domain":[0,0.25],"nice":false,"zero":false},"axis":{"values":[0,0.05,0.1,0.15,0.2,0.25],"labelExpr":"datum.value == 0 ? '0.0' : format(datum.value, '.2f')","title":"MAPK* (uM)","labelOverlap":false,"labelFlush":false}},"strokeDash":{"field":"s","type":"nominal","scale":{"domain":["experiment","sim"],"range":[[1,0],[6,2,1,2]]},"legend":{"symbolStrokeColor":"#2030cc"}},"strokeWidth":{"field":"s","type":"nominal","scale":{"domain":["experiment","sim"],"range":[1.8,1.1]},"legend":null}}},
       {"data":{"name":"e"},"transform":[{"filter":"datum.s != 'sim'"}],"mark":{"type":"circle","size":24,"color":"#1a22b0","stroke":"#10166e","strokeWidth":0.6,"opacity":1},
        "encoding":{"x":{"field":"t","type":"quantitative","axis":{"orient":"top","values":[0,1000,2000,3000,4000,5000],"labels":false,"title":null}},"y":{"field":"v","type":"quantitative","axis":{"orient":"right","values":[0,0.05,0.1,0.15,0.2,0.25],"labels":false,"title":null}}}},
       {"data":{"name":"ann"},"transform":[{"filter":"datum.panel == 'E'"}],"mark":{"type":"text","align":"left","baseline":"top","dx":8,"dy":6,"fontSize":16,"font":"Liberation Sans","color":"#000"},
        "encoding":{"x":{"datum":0,"type":"quantitative","axis":null},"y":{"datum":0.25,"type":"quantitative","axis":null},"text":{"field":"score","type":"nominal"}}},
       {"data":{"name":"ann"},"transform":[{"filter":"datum.panel == 'E'"}],"mark":{"type":"text","align":"left","baseline":"alphabetic","dx":-34,"dy":-6,"fontSize":17,"fontWeight":"bold","font":"Liberation Sans","color":"#000"},
        "encoding":{"x":{"datum":0,"type":"quantitative","axis":null},"y":{"datum":0.25,"type":"quantitative","axis":null},"text":{"field":"letter","type":"nominal"}}}
      ]
     }
  ],
  "columns":2,
  "spacing":{"row":48,"column":46},
  "bounds":"flush",
  "resolve":{"scale":{"strokeDash":"independent","strokeWidth":"independent"},"legend":{"strokeDash":"independent"}}
 }
]
}
